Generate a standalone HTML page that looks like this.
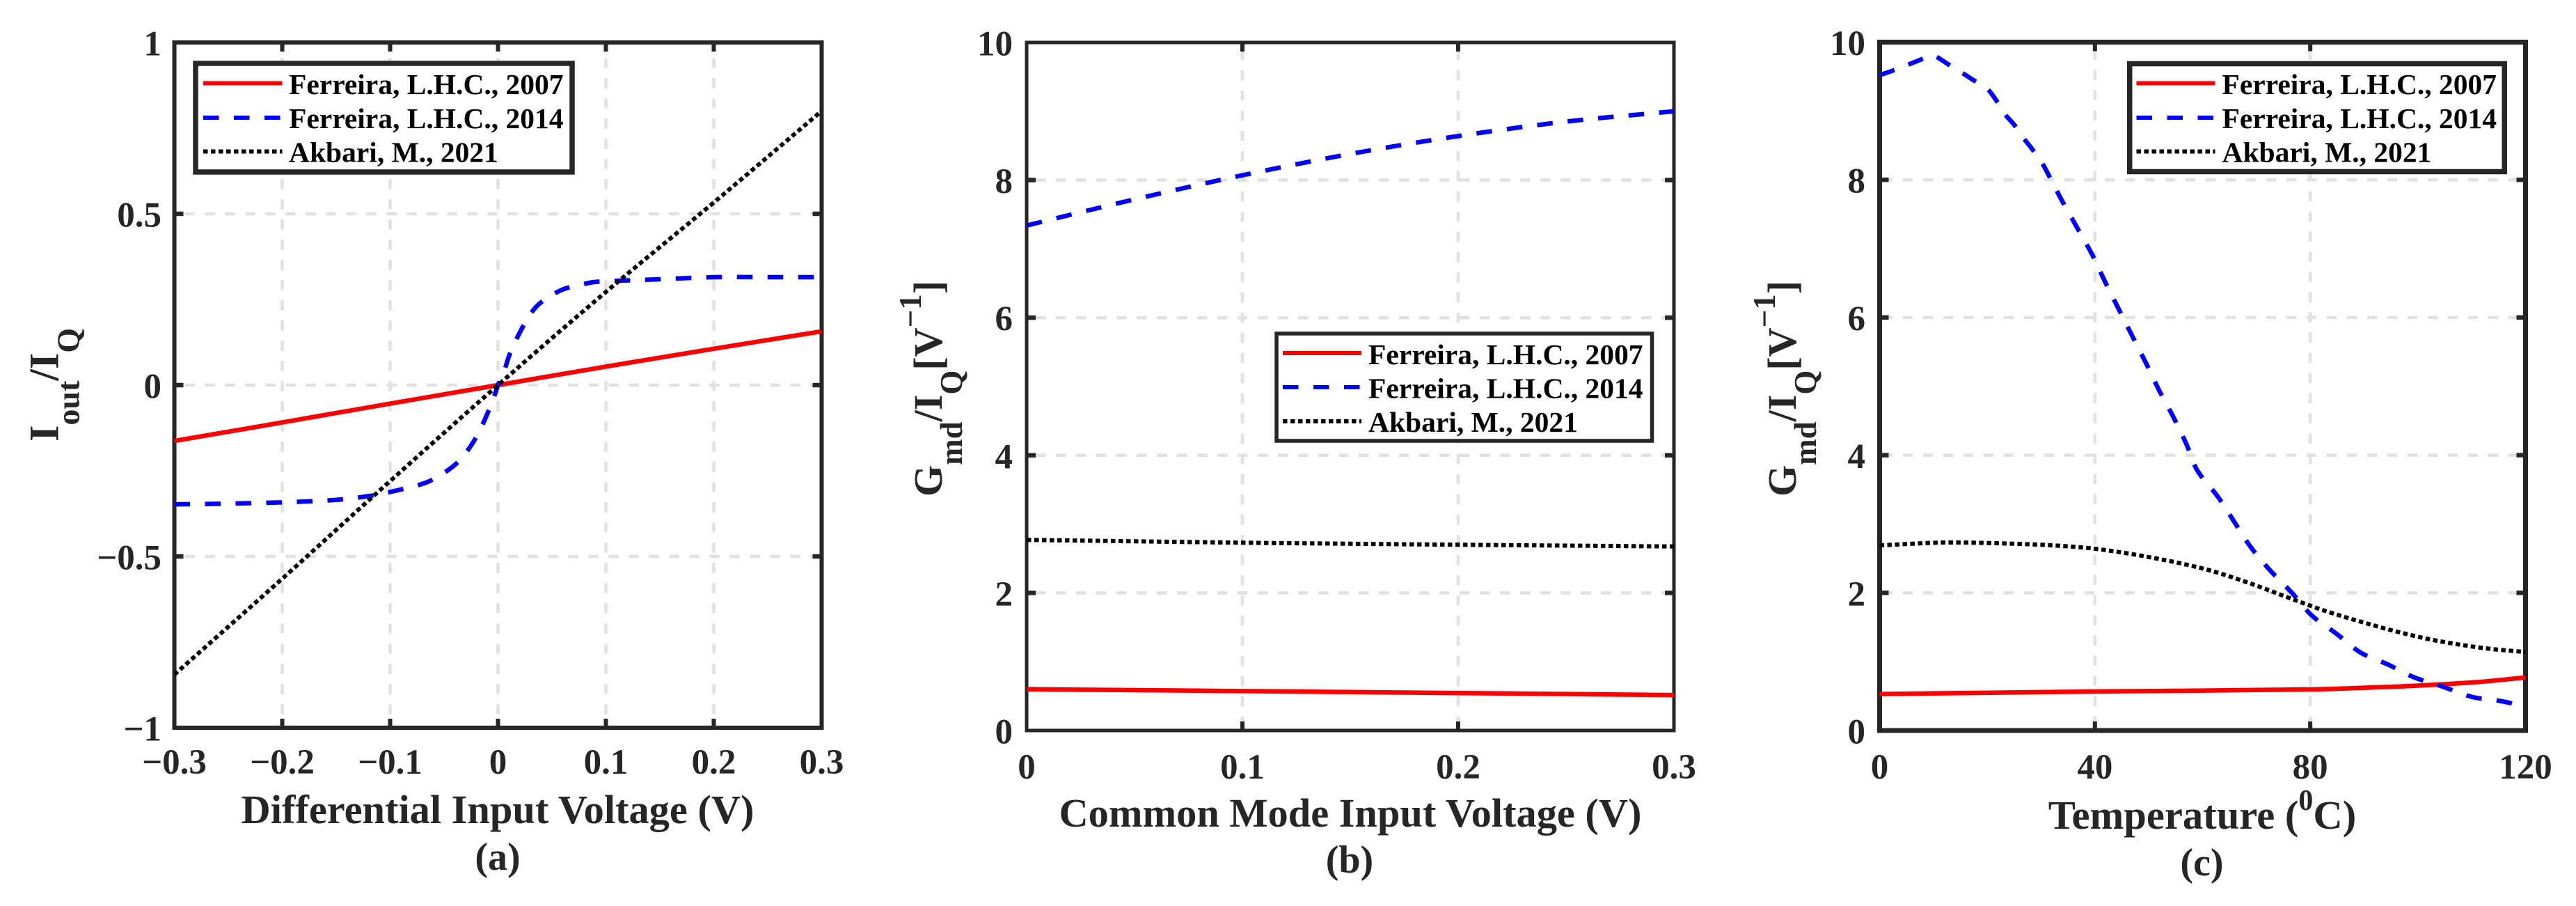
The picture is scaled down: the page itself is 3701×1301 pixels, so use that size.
<!DOCTYPE html>
<html lang="en">
<head>
<meta charset="utf-8">
<title>Transconductance comparison charts</title>
<style>
html,body{margin:0;padding:0;background:#fff;width:3701px;height:1301px;overflow:hidden}
svg{display:block}
text{font-family:"Liberation Serif",serif;font-weight:bold;fill:#262626}
.leg{font-size:41.5px;fill:#000}
.axl{font-size:58.4px}
.cap{font-size:56px}
.yl{font-size:58px}
.tick{font-size:51px}
</style>
</head>
<body>
<svg id="figure" xmlns="http://www.w3.org/2000/svg" width="3701" height="1301" viewBox="0 0 3701 1301">
  <rect x="0" y="0" width="3701" height="1301" fill="#fff"/>
  <defs>
    <clipPath id="clip-a"><rect x="250.5" y="61" width="930" height="984"/></clipPath>
    <clipPath id="clip-b"><rect x="1475" y="61" width="930" height="988"/></clipPath>
    <clipPath id="clip-c"><rect x="2700.5" y="61" width="928" height="988"/></clipPath>
  </defs>

  <g id="panel-a"></g>
  <g id="panel-b"></g>
  <g id="panel-c"></g>

  <!-- axis titles -->
  <text style="font-size:60px" transform="translate(83.5,634) rotate(-90)">I<tspan dy="30" font-size="46">out</tspan><tspan dy="-30">/I</tspan><tspan dy="30" font-size="46">Q</tspan></text>
  <text class="axl" x="715" y="1182" text-anchor="middle">Differential Input Voltage (V)</text>
  <text class="cap" x="715" y="1249" text-anchor="middle">(a)</text>

  <text class="yl" transform="translate(1353,713) rotate(-90)">G<tspan dy="29" font-size="45">md</tspan><tspan dy="-29">/I</tspan><tspan dy="29" font-size="45">Q</tspan><tspan dy="-29">[V</tspan><tspan dy="-30" font-size="45">&#8722;1</tspan><tspan dy="30">]</tspan></text>
  <text class="axl" x="1940" y="1187" text-anchor="middle">Common Mode Input Voltage (V)</text>
  <text class="cap" x="1939" y="1253" text-anchor="middle">(b)</text>

  <text class="yl" transform="translate(2580,713) rotate(-90)">G<tspan dy="29" font-size="45">md</tspan><tspan dy="-29">/I</tspan><tspan dy="29" font-size="45">Q</tspan><tspan dy="-29">[V</tspan><tspan dy="-30" font-size="45">&#8722;1</tspan><tspan dy="30">]</tspan></text>
  <text class="axl" style="font-size:58.6px" x="3164" y="1190" text-anchor="middle">Temperature (<tspan dy="-27" font-size="42">0</tspan><tspan dy="27">C)</tspan></text>
  <text class="cap" x="3163.5" y="1257" text-anchor="middle">(c)</text>

  <!-- legends -->
  <g>
    <rect x="281" y="91" width="541" height="156" fill="#fff" stroke="#262626" stroke-width="7.5"/>
    <g>
      <line x1="292" x2="405.5" y1="119.5" y2="119.5" stroke="#ff0000" stroke-width="6"/>
      <text class="leg" x="415" y="135">Ferreira, L.H.C., 2007</text>
    </g>
    <g>
      <line x1="292" x2="405.5" y1="169" y2="169" stroke="#0000ff" stroke-width="6" stroke-dasharray="22.5 21.5"/>
      <text class="leg" x="415" y="184">Ferreira, L.H.C., 2014</text>
    </g>
    <g>
      <line x1="292" x2="405.5" y1="217.5" y2="217.5" stroke="#000" stroke-width="6" stroke-dasharray="6.5 4.5"/>
      <text class="leg" x="415" y="232.5">Akbari, M., 2021</text>
    </g>
  </g>
  <g>
    <rect x="1834" y="479" width="539.5" height="154" fill="#fff" stroke="#262626" stroke-width="5.5"/>
    <g>
      <line x1="1843" x2="1956" y1="507" y2="507" stroke="#ff0000" stroke-width="6"/>
      <text class="leg" x="1966" y="523">Ferreira, L.H.C., 2007</text>
    </g>
    <g>
      <line x1="1843" x2="1956" y1="556" y2="556" stroke="#0000ff" stroke-width="6" stroke-dasharray="22.5 21.5"/>
      <text class="leg" x="1966" y="571.5">Ferreira, L.H.C., 2014</text>
    </g>
    <g>
      <line x1="1843" x2="1956" y1="605" y2="605" stroke="#000" stroke-width="6" stroke-dasharray="6.5 4.5"/>
      <text class="leg" x="1966" y="620">Akbari, M., 2021</text>
    </g>
  </g>
  <g>
    <rect x="3059.75" y="91.5" width="538.5" height="155" fill="#fff" stroke="#262626" stroke-width="7.5"/>
    <g>
      <line x1="3069.5" x2="3182.5" y1="119.5" y2="119.5" stroke="#ff0000" stroke-width="6"/>
      <text class="leg" x="3192.5" y="135">Ferreira, L.H.C., 2007</text>
    </g>
    <g>
      <line x1="3069.5" x2="3182.5" y1="169" y2="169" stroke="#0000ff" stroke-width="6" stroke-dasharray="22.5 21.5"/>
      <text class="leg" x="3192.5" y="184">Ferreira, L.H.C., 2014</text>
    </g>
    <g>
      <line x1="3069.5" x2="3182.5" y1="217.5" y2="217.5" stroke="#000" stroke-width="6" stroke-dasharray="6.5 4.5"/>
      <text class="leg" x="3192.5" y="232.5">Akbari, M., 2021</text>
    </g>
  </g>
</svg>

<script>
// Panel (a): I_out / I_Q vs differential input voltage
var aTicksX = [-0.3, -0.2, -0.1, 0, 0.1, 0.2, 0.3];
var aTicksY = [-1, -0.5, 0, 0.5, 1];
var aRedX = [-0.3, -0.2, -0.1, 0, 0.1, 0.2, 0.3];
var aRedY = [-0.163, -0.109, -0.054, 0, 0.054, 0.106, 0.157];
var aBlueX = [-0.3, -0.25, -0.2, -0.15, -0.12, -0.1, -0.0742, -0.0634, -0.0505, -0.0394, -0.0297, -0.0219, -0.015, -0.0097, -0.0043, 0, 0.0058, 0.0101, 0.0157, 0.0221, 0.029, 0.0381, 0.0495, 0.0617, 0.0757, 0.0899, 0.115, 0.15, 0.2, 0.25, 0.3];
var aBlueY = [-0.348, -0.346, -0.342, -0.335, -0.324, -0.312, -0.292, -0.28, -0.257, -0.231, -0.197, -0.161, -0.12, -0.082, -0.04, 0, 0.042, 0.084, 0.125, 0.165, 0.203, 0.237, 0.262, 0.281, 0.292, 0.301, 0.305, 0.309, 0.315, 0.315, 0.315];
var aBlackX = [-0.3, -0.2, -0.1, 0, 0.1, 0.2, 0.3];
var aBlackY = [-0.845, -0.565, -0.28, 0, 0.272, 0.533, 0.8];

// Panel (b): G_md / I_Q vs common mode input voltage
var bTicksX = [0, 0.1, 0.2, 0.3];
var bTicksY = [0, 2, 4, 6, 8, 10];
var bX = [0, 0.05, 0.1, 0.15, 0.2, 0.25, 0.3];
var bRedY = [0.60, 0.587, 0.573, 0.559, 0.545, 0.53, 0.515];
var bBlueY = [7.34, 7.72, 8.07, 8.38, 8.64, 8.85, 9.0];
var bBlackY = [2.77, 2.75, 2.73, 2.715, 2.70, 2.687, 2.675];

// Panel (c): G_md / I_Q vs temperature
var cTicksX = [0, 40, 80, 120];
var cTicksY = [0, 2, 4, 6, 8, 10];
var cRedX = [0, 40, 80, 89, 99.4, 110.5, 120];
var cRedY = [0.53, 0.567, 0.597, 0.618, 0.65, 0.70, 0.77];
var cBlueX = [0, 2.6, 5.2, 7.75, 9, 9.7, 10.3, 12.7, 15.2, 17.6, 19.9, 21.7, 23.1, 25.1, 26.7, 28.4, 30, 31.4, 34, 36.8, 39.5, 42, 44.5, 47, 49.6, 52, 54.6, 57, 59, 62.9, 65.9, 68.9, 72.5, 76.6, 80.3, 84.8, 89.4, 94.4, 99.4, 104.5, 110, 115.6, 120];
var cBlueY = [9.52, 9.59, 9.67, 9.75, 9.79, 9.81, 9.8, 9.68, 9.56, 9.44, 9.33, 9.15, 8.97, 8.79, 8.61, 8.44, 8.27, 8.07, 7.68, 7.29, 6.91, 6.5, 6.11, 5.72, 5.32, 4.93, 4.55, 4.16, 3.78, 3.39, 3.03, 2.67, 2.33, 2.0, 1.67, 1.41, 1.13, 0.96, 0.77, 0.64, 0.49, 0.425, 0.344];
var cBlackX = [0, 11.8, 21.9, 32, 40, 50, 60.2, 68.2, 76.3, 82.3, 89.4, 96.4, 103.5, 112.5, 120];
var cBlackY = [2.69, 2.73, 2.72, 2.69, 2.64, 2.52, 2.35, 2.155, 1.92, 1.75, 1.58, 1.43, 1.305, 1.195, 1.14];

var SVGNS = 'http://www.w3.org/2000/svg';

function linearAxis(d0, d1, r0, r1) {
  return function (v) { return r0 + (v - d0) / (d1 - d0) * (r1 - r0); };
}

function fmt(v) {
  return String(v).replace('-', '\u2212');
}

function addLine(g, x1, y1, x2, y2, name, color, width, dash, offset) {
  var el = document.createElementNS(SVGNS, 'line');
  
  
  el.setAttribute('x1', x1);
  el.setAttribute('y1', y1);
  el.setAttribute('x2', x2);
  el.setAttribute('y2', y2);
  el.setAttribute('stroke', color);
  el.setAttribute('stroke-width', width);
  if (dash) {
    el.setAttribute('stroke-dasharray', dash);
    el.setAttribute('stroke-dashoffset', offset);
  }
  g.appendChild(el);
}

function addLabel(g, x, y, str, anchor, name) {
  var el = document.createElementNS(SVGNS, 'text');
  
  
  el.setAttribute('class', 'tick');
  el.setAttribute('x', x);
  el.setAttribute('y', y);
  el.setAttribute('text-anchor', anchor);
  el.textContent = str;
  g.appendChild(el);
}

// Smooth path through the scaled data values (tangent direction from neighbours,
// handle length from the segment length, so uneven spacing does not overshoot).
function smoothPath(px, py) {
  var n = px.length;
  var tx = [], ty = [], i;
  for (i = 0; i < n; i++) {
    var a = Math.max(i - 1, 0), b = Math.min(i + 1, n - 1);
    var dx = px[b] - px[a], dy = py[b] - py[a];
    var len = Math.sqrt(dx * dx + dy * dy) || 1;
    tx.push(dx / len);
    ty.push(dy / len);
  }
  var d = 'M' + px[0].toFixed(1) + ' ' + py[0].toFixed(1);
  for (i = 0; i < n - 1; i++) {
    var sx = px[i + 1] - px[i], sy = py[i + 1] - py[i];
    var h = Math.sqrt(sx * sx + sy * sy) / 3;
    d += 'C' + (px[i] + tx[i] * h).toFixed(1) + ' ' + (py[i] + ty[i] * h).toFixed(1) + ' ' +
      (px[i + 1] - tx[i + 1] * h).toFixed(1) + ' ' + (py[i + 1] - ty[i + 1] * h).toFixed(1) + ' ' +
      px[i + 1].toFixed(1) + ' ' + py[i + 1].toFixed(1);
  }
  return d;
}

function addSeries(g, xs, ys, sx, sy, name, color, width, dash, clip) {
  var px = xs.map(sx);
  var py = ys.map(sy);
  var el = document.createElementNS(SVGNS, 'path');
  
  
  el.setAttribute('d', smoothPath(px, py));
  el.setAttribute('fill', 'none');
  el.setAttribute('stroke', color);
  el.setAttribute('stroke-width', width);
  el.setAttribute('stroke-linejoin', 'round');
  el.setAttribute('clip-path', 'url(#' + clip + ')');
  if (dash) {
    el.setAttribute('stroke-dasharray', dash);
  }
  g.appendChild(el);
}

function drawFrame(g, box, ticksX, ticksY, sx, sy, lw, xLabelY, yLabelX, gridOffX, gridOffY) {
  var i, p;
  for (i = 0; i < ticksX.length; i++) {
    p = sx(ticksX[i]);
    if (i > 0 && i < ticksX.length - 1) {
      addLine(g, p, box.top, p, box.bottom, 'vertical-grid-line', '#e1e1e1', 4.5, '14.5 14.5', gridOffY);
    }
  }
  for (i = 0; i < ticksY.length; i++) {
    p = sy(ticksY[i]);
    if (i > 0 && i < ticksY.length - 1) {
      addLine(g, box.left, p, box.right, p, 'horizontal-grid-line', '#e1e1e1', 4.5, '14.5 14.5', gridOffX);
    }
  }
  var frame = document.createElementNS(SVGNS, 'rect');
  
  
  frame.setAttribute('x', box.left);
  frame.setAttribute('y', box.top);
  frame.setAttribute('width', box.right - box.left);
  frame.setAttribute('height', box.bottom - box.top);
  frame.setAttribute('fill', 'none');
  frame.setAttribute('stroke', '#262626');
  frame.setAttribute('stroke-width', lw);
  g.appendChild(frame);
  for (i = 0; i < ticksX.length; i++) {
    p = sx(ticksX[i]);
    if (i > 0 && i < ticksX.length - 1) {
      addLine(g, p, box.top, p, box.top + 13, 'x-tick-top', '#262626', 6);
      addLine(g, p, box.bottom, p, box.bottom - 13, 'x-tick-bottom', '#262626', 6);
    }
    addLabel(g, p, xLabelY, fmt(ticksX[i]), 'middle', 'x-tick-label');
  }
  for (i = 0; i < ticksY.length; i++) {
    p = sy(ticksY[i]);
    if (i > 0 && i < ticksY.length - 1) {
      addLine(g, box.left, p, box.left + 13, p, 'y-tick-left', '#262626', 6.5);
      addLine(g, box.right, p, box.right - 13, p, 'y-tick-right', '#262626', 6.5);
    }
    addLabel(g, yLabelX, p + 18.5, fmt(ticksY[i]), 'end', 'y-tick-label');
  }
}

var BLUE_DASH = '22.5 21.5';
var DOT_DASH = '6.5 4.5';

// Panel a
(function () {
  var g = document.getElementById('panel-a');
  var box = { left: 250.5, right: 1180.5, top: 61, bottom: 1045 };
  var sx = linearAxis(-0.3, 0.3, box.left, box.right);
  var sy = linearAxis(-1, 1, box.bottom, box.top);
  drawFrame(g, box, aTicksX, aTicksY, sx, sy, 6, 1111, 232, 14.2, 6.7);
  addSeries(g, aRedX, aRedY, sx, sy, 'series-ferreira-2007', '#ff0000', 6.5, null, 'clip-a');
  addSeries(g, aBlueX, aBlueY, sx, sy, 'series-ferreira-2014', '#0000ff', 6.5, BLUE_DASH, 'clip-a');
  addSeries(g, aBlackX, aBlackY, sx, sy, 'series-akbari-2021', '#000', 6, DOT_DASH, 'clip-a');
})();

// Panel b
(function () {
  var g = document.getElementById('panel-b');
  var box = { left: 1475, right: 2405, top: 61, bottom: 1049 };
  var sx = linearAxis(0, 0.3, box.left, box.right);
  var sy = linearAxis(0, 10, box.bottom, box.top);
  drawFrame(g, box, bTicksX, bTicksY, sx, sy, 5, 1118, 1455, 16, 18);
  addSeries(g, bX, bRedY, sx, sy, 'series-ferreira-2007', '#ff0000', 6.5, null, 'clip-b');
  addSeries(g, bX, bBlueY, sx, sy, 'series-ferreira-2014', '#0000ff', 6.5, BLUE_DASH, 'clip-b');
  addSeries(g, bX, bBlackY, sx, sy, 'series-akbari-2021', '#000', 6, DOT_DASH, 'clip-b');
})();

// Panel c
(function () {
  var g = document.getElementById('panel-c');
  var box = { left: 2700.5, right: 3628.5, top: 60.5, bottom: 1049 };
  var sx = linearAxis(0, 120, box.left, box.right);
  var sy = linearAxis(0, 10, box.bottom, box.top);
  drawFrame(g, box, cTicksX, cTicksY, sx, sy, 7, 1118, 2680, 24.7, 18);
  addSeries(g, cRedX, cRedY, sx, sy, 'series-ferreira-2007', '#ff0000', 6.5, null, 'clip-c');
  addSeries(g, cBlueX, cBlueY, sx, sy, 'series-ferreira-2014', '#0000ff', 6.5, BLUE_DASH, 'clip-c');
  addSeries(g, cBlackX, cBlackY, sx, sy, 'series-akbari-2021', '#000', 6, DOT_DASH, 'clip-c');
})();
</script>
</body>
</html>
